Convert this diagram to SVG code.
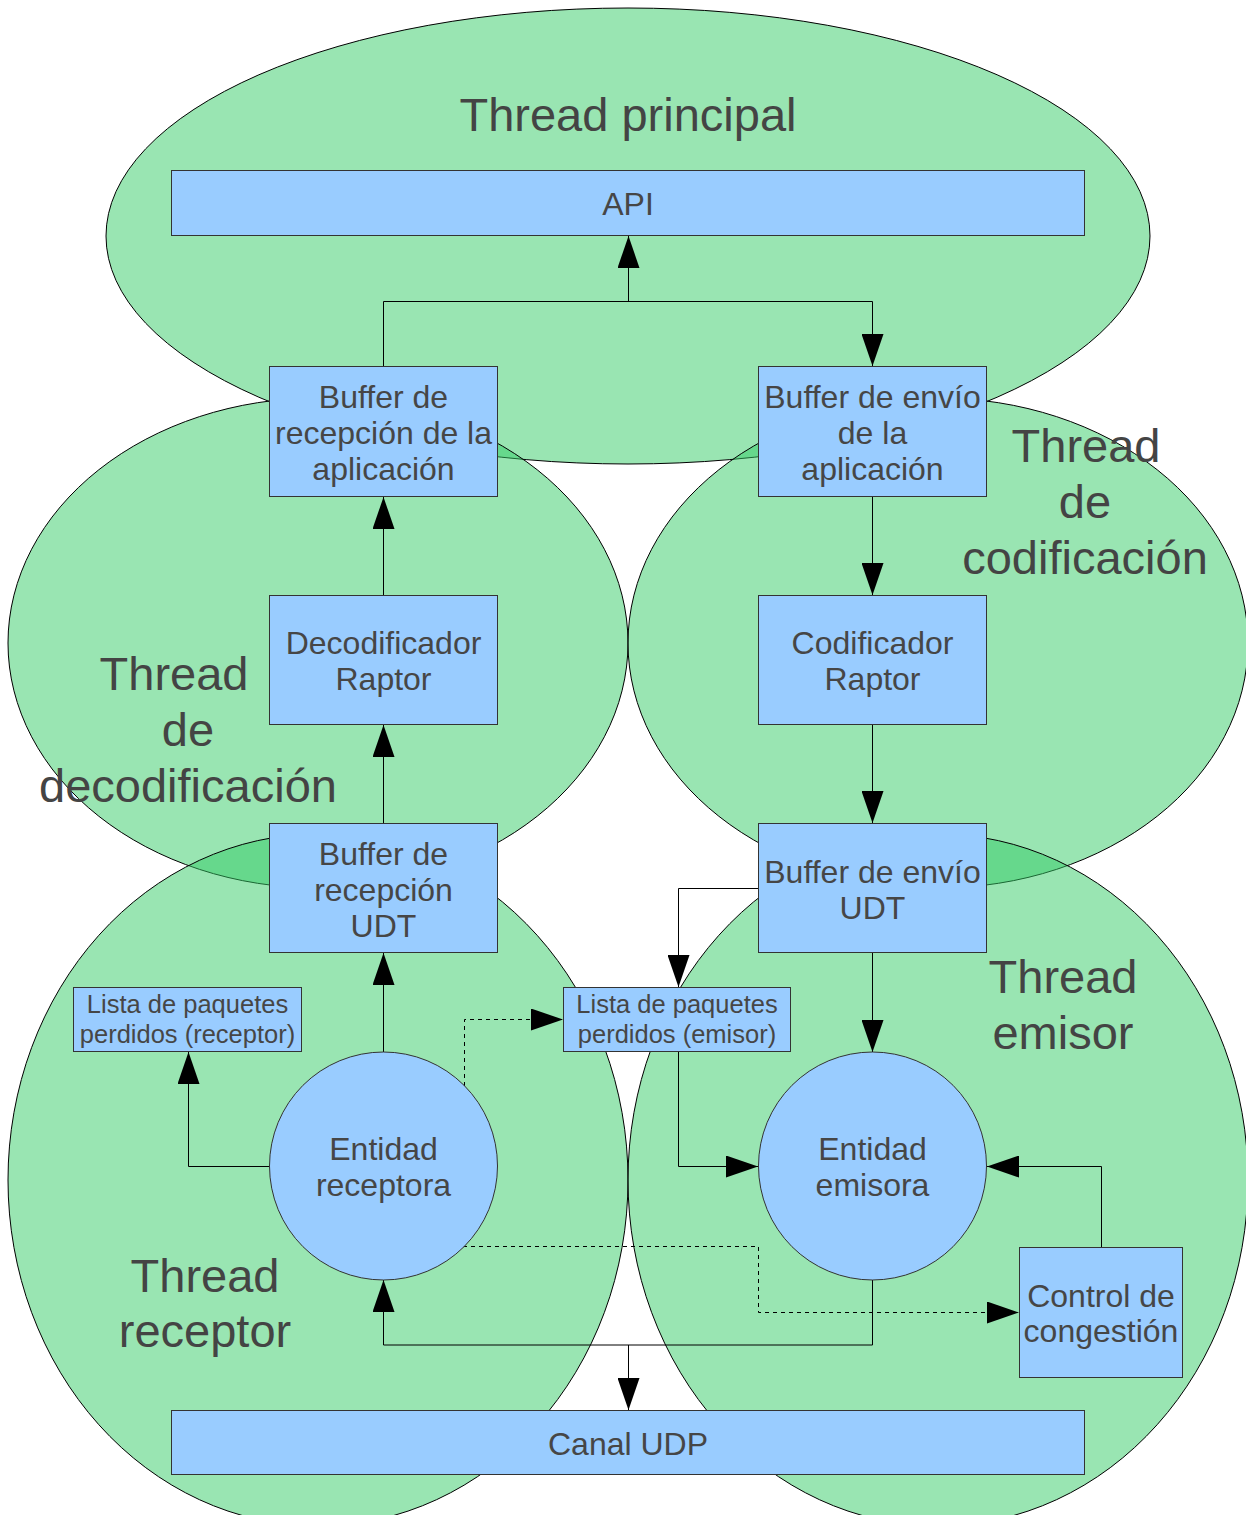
<svg xmlns="http://www.w3.org/2000/svg" width="1246" height="1515" viewBox="0 0 1246 1515">
  <style>
    .zone { fill: #33cc66; fill-opacity: 0.5; stroke: #000; stroke-width: 1; }
    .zlabel { font-family: "Liberation Sans", Arial, sans-serif; font-size: 47px; fill: #444; text-anchor: middle; }
    .box { fill: #99ccff; stroke: #333; stroke-width: 1; }
    .txt { font-family: "Liberation Sans", Arial, sans-serif; font-size: 32px; fill: #464646; text-anchor: middle; }
    .small { font-family: "Liberation Sans", Arial, sans-serif; font-size: 25.5px; fill: #464646; text-anchor: middle; }
    .wire { fill: none; stroke: #000; stroke-width: 1; }
    .dash { fill: none; stroke: #000; stroke-width: 1; stroke-dasharray: 4 4; }
  </style>
  <defs>
    <marker id="arrow" markerUnits="userSpaceOnUse" markerWidth="32" markerHeight="22" refX="32" refY="11" orient="auto">
      <path d="M0,0 L32,11 L0,22 z" fill="#000"/>
    </marker>
  </defs>

  <rect width="1246" height="1515" fill="#fff"/>

  <!-- thread zones -->
  <g id="thread-principal">
    <ellipse class="zone" cx="628" cy="236" rx="522" ry="228"/>
    <text class="zlabel" x="628" y="131">Thread principal</text>
  </g>
  <g id="thread-decodificacion">
    <ellipse class="zone" cx="318" cy="643" rx="310" ry="245"/>
    <text class="zlabel" x="174" y="690">Thread</text>
    <text class="zlabel" x="188" y="746">de</text>
    <text class="zlabel" x="188" y="802">decodificación</text>
  </g>
  <g id="thread-codificacion">
    <ellipse class="zone" cx="938" cy="643" rx="310" ry="245"/>
    <text class="zlabel" x="1086" y="462">Thread</text>
    <text class="zlabel" x="1085" y="518">de</text>
    <text class="zlabel" x="1085" y="574">codificación</text>
  </g>
  <g id="thread-receptor">
    <ellipse class="zone" cx="318" cy="1180" rx="310" ry="346"/>
    <text class="zlabel" x="205" y="1292">Thread</text>
    <text class="zlabel" x="205" y="1347">receptor</text>
  </g>
  <g id="thread-emisor">
    <ellipse class="zone" cx="938" cy="1180" rx="310" ry="346"/>
    <text class="zlabel" x="1063" y="993">Thread</text>
    <text class="zlabel" x="1063" y="1049">emisor</text>
  </g>

  <!-- connectors -->
  <g id="connectors">
    <path class="wire" d="M383.5,366 V301.5 H872.5 V366" marker-end="url(#arrow)"/>
    <path class="wire" d="M628.5,301.5 V236" marker-end="url(#arrow)"/>
    <path class="wire" d="M383.5,595 V497" marker-end="url(#arrow)"/>
    <path class="wire" d="M383.5,823 V725" marker-end="url(#arrow)"/>
    <path class="wire" d="M383.5,1052 V953" marker-end="url(#arrow)"/>
    <path class="wire" d="M269,1166.5 H188.5 V1052" marker-end="url(#arrow)"/>
    <path class="dash" d="M464.5,1086 V1019.5 H563" marker-end="url(#arrow)"/>
    <path class="dash" d="M463,1246.5 H758.5 V1312.5 H1019" marker-end="url(#arrow)"/>
    <path class="wire" d="M872.5,497 V595" marker-end="url(#arrow)"/>
    <path class="wire" d="M872.5,725 V823" marker-end="url(#arrow)"/>
    <path class="wire" d="M872.5,953 V1052" marker-end="url(#arrow)"/>
    <path class="wire" d="M758,888.5 H678.5 V987" marker-end="url(#arrow)"/>
    <path class="wire" d="M678.5,1052 V1166.5 H758" marker-end="url(#arrow)"/>
    <path class="wire" d="M1101.5,1247 V1166.5 H987" marker-end="url(#arrow)"/>
    <path class="wire" d="M872.5,1280 V1345 H383.5 V1280" marker-end="url(#arrow)"/>
    <path class="wire" d="M628.5,1345 V1410" marker-end="url(#arrow)"/>
  </g>

  <!-- components -->
  <g id="api">
    <rect class="box" x="171.5" y="170.5" width="913" height="65"/>
    <text class="txt" x="628" y="214.5">API</text>
  </g>
  <g id="buffer-recepcion-aplicacion">
    <rect class="box" x="269.5" y="366.5" width="228" height="130"/>
    <text class="txt" x="383.5" y="408">Buffer de</text>
    <text class="txt" x="383.5" y="444">recepción de la</text>
    <text class="txt" x="383.5" y="480">aplicación</text>
  </g>
  <g id="buffer-envio-aplicacion">
    <rect class="box" x="758.5" y="366.5" width="228" height="130"/>
    <text class="txt" x="872.5" y="408">Buffer de envío</text>
    <text class="txt" x="872.5" y="444">de la</text>
    <text class="txt" x="872.5" y="480">aplicación</text>
  </g>
  <g id="decodificador-raptor">
    <rect class="box" x="269.5" y="595.5" width="228" height="129"/>
    <text class="txt" x="383.5" y="654">Decodificador</text>
    <text class="txt" x="383.5" y="690">Raptor</text>
  </g>
  <g id="codificador-raptor">
    <rect class="box" x="758.5" y="595.5" width="228" height="129"/>
    <text class="txt" x="872.5" y="654">Codificador</text>
    <text class="txt" x="872.5" y="690">Raptor</text>
  </g>
  <g id="buffer-recepcion-udt">
    <rect class="box" x="269.5" y="823.5" width="228" height="129"/>
    <text class="txt" x="383.5" y="865">Buffer de</text>
    <text class="txt" x="383.5" y="901">recepción</text>
    <text class="txt" x="383.5" y="937">UDT</text>
  </g>
  <g id="buffer-envio-udt">
    <rect class="box" x="758.5" y="823.5" width="228" height="129"/>
    <text class="txt" x="872.5" y="883">Buffer de envío</text>
    <text class="txt" x="872.5" y="919">UDT</text>
  </g>
  <g id="perdidos-receptor">
    <rect class="box" x="73.5" y="987.5" width="228" height="64"/>
    <text class="small" x="187.5" y="1013">Lista de paquetes</text>
    <text class="small" x="187.5" y="1043">perdidos (receptor)</text>
  </g>
  <g id="perdidos-emisor">
    <rect class="box" x="563.5" y="987.5" width="227" height="64"/>
    <text class="small" x="677" y="1013">Lista de paquetes</text>
    <text class="small" x="677" y="1043">perdidos (emisor)</text>
  </g>
  <g id="entidad-receptora">
    <circle class="box" cx="383.5" cy="1166" r="114"/>
    <text class="txt" x="383.5" y="1160">Entidad</text>
    <text class="txt" x="383.5" y="1196">receptora</text>
  </g>
  <g id="entidad-emisora">
    <circle class="box" cx="872.5" cy="1166" r="114"/>
    <text class="txt" x="872.5" y="1160">Entidad</text>
    <text class="txt" x="872.5" y="1196">emisora</text>
  </g>
  <g id="control-congestion">
    <rect class="box" x="1019.5" y="1247.5" width="163" height="130"/>
    <text class="txt" x="1101" y="1307">Control de</text>
    <text class="txt" x="1101" y="1342">congestión</text>
  </g>
  <g id="canal-udp">
    <rect class="box" x="171.5" y="1410.5" width="913" height="64"/>
    <text class="txt" x="628" y="1455">Canal UDP</text>
  </g>
</svg>
